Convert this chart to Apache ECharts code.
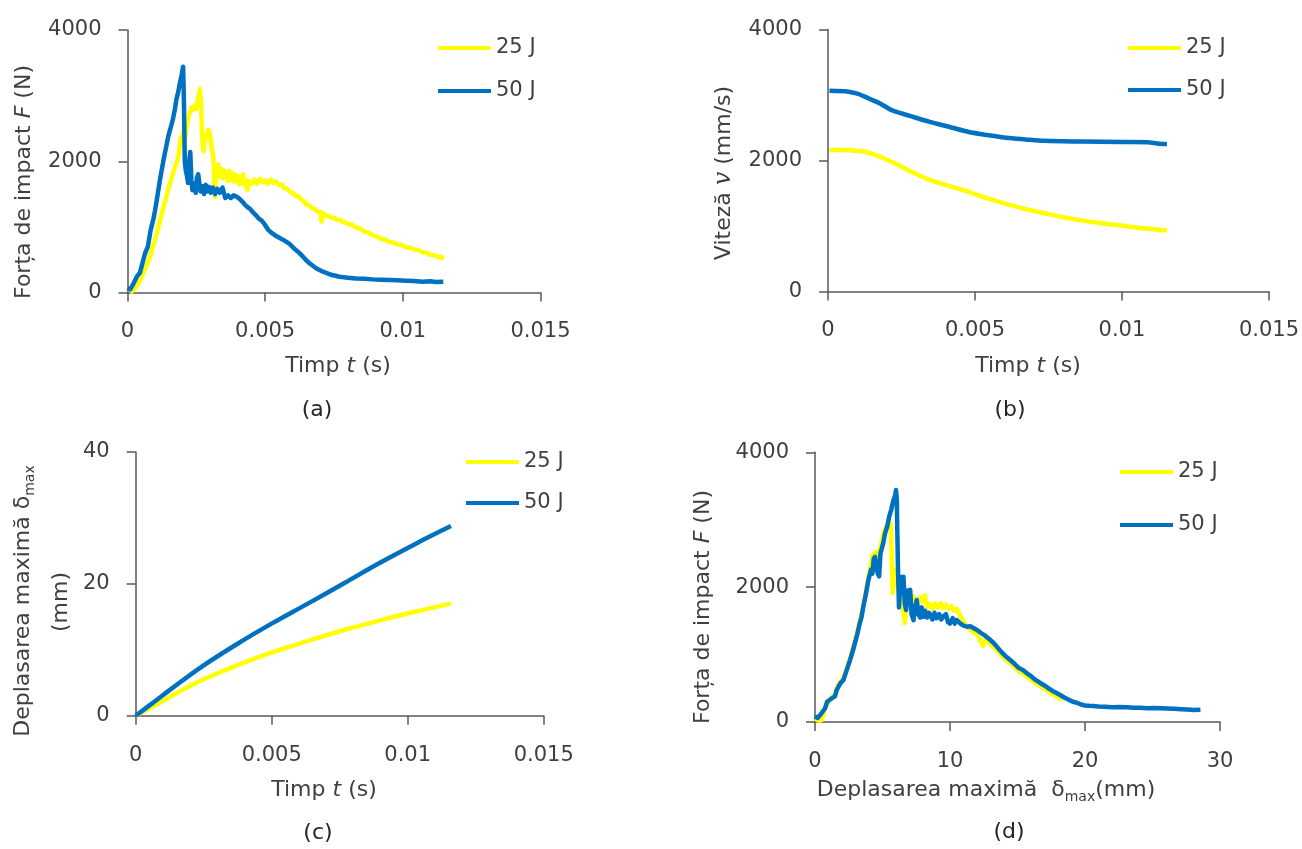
<!DOCTYPE html>
<html>
<head>
<meta charset="utf-8">
<script src="https://cdn.jsdelivr.net/npm/echarts@6/dist/echarts.min.js"></script>
<style>html,body{margin:0;padding:0;background:#fff}#c{width:1302px;height:849px}</style>
</head>
<body>
<div id="c"></div>
<script>
// ---------- DATA ----------
const seriesNames = ['25 J', '50 J'];

// (a) Impact force vs time
const a25_t = [0.00010,0.00020,0.00030,0.00040,0.00050,0.00060,0.00070,0.00080,0.00090,0.00100,0.00110,0.00120,0.00130,0.00140,0.00150,0.00160,0.00170,0.00180,0.00186,0.00192,0.00197,0.00202,0.00208,0.00214,0.00220,0.00226,0.00232,0.00238,0.00244,0.00250,0.00256,0.00263,0.00267,0.00272,0.00276,0.00282,0.00288,0.00294,0.00300,0.00306,0.00312,0.00317,0.00322,0.00326,0.00330,0.00335,0.00340,0.00345,0.00350,0.00355,0.00360,0.00365,0.00370,0.00375,0.00380,0.00385,0.00390,0.00395,0.00400,0.00405,0.00410,0.00415,0.00420,0.00425,0.00430,0.00435,0.00440,0.00450,0.00460,0.00470,0.00480,0.00490,0.00500,0.00510,0.00520,0.00530,0.00540,0.00550,0.00560,0.00570,0.00580,0.00590,0.00600,0.00610,0.00620,0.00630,0.00640,0.00650,0.00660,0.00670,0.00680,0.00690,0.00700,0.00705,0.00710,0.00720,0.00730,0.00740,0.00750,0.00760,0.00770,0.00780,0.00790,0.00800,0.00815,0.00830,0.00845,0.00860,0.00875,0.00890,0.00905,0.00920,0.00935,0.00950,0.00965,0.00980,0.00995,0.01010,0.01025,0.01040,0.01055,0.01070,0.01085,0.01100,0.01115,0.01130,0.01140,0.01147];
const a25_F = [0,30,80,140,230,320,420,520,670,800,960,1130,1290,1440,1600,1740,1880,2000,2100,2350,2250,2450,2300,2500,2650,2730,2820,2780,2850,2800,2950,3100,2850,2300,2150,2400,2350,2480,2400,2200,2050,1460,1900,1820,1950,1760,1880,1740,1860,1750,1840,1700,1850,1720,1820,1690,1800,1700,1780,1650,1760,1660,1800,1640,1720,1560,1700,1650,1720,1660,1730,1680,1710,1660,1720,1670,1690,1630,1650,1590,1580,1530,1520,1470,1470,1420,1390,1340,1330,1280,1270,1230,1230,1080,1210,1170,1170,1140,1140,1110,1110,1080,1075,1040,1035,990,975,930,915,870,855,820,805,770,765,730,725,690,685,655,650,615,610,575,570,535,545,500];

const a50_t = [0.00000,0.00010,0.00020,0.00027,0.00035,0.00045,0.00055,0.00064,0.00074,0.00084,0.00094,0.00100,0.00106,0.00112,0.00118,0.00124,0.00130,0.00136,0.00142,0.00148,0.00154,0.00160,0.00166,0.00172,0.00178,0.00184,0.00190,0.00196,0.00202,0.00205,0.00208,0.00212,0.00216,0.00220,0.00224,0.00228,0.00232,0.00236,0.00242,0.00248,0.00252,0.00257,0.00262,0.00266,0.00272,0.00278,0.00284,0.00290,0.00296,0.00302,0.00310,0.00318,0.00326,0.00335,0.00345,0.00355,0.00365,0.00375,0.00385,0.00396,0.00406,0.00416,0.00426,0.00436,0.00446,0.00456,0.00466,0.00476,0.00486,0.00496,0.00504,0.00512,0.00520,0.00530,0.00540,0.00553,0.00570,0.00589,0.00605,0.00625,0.00645,0.00661,0.00685,0.00710,0.00740,0.00770,0.00800,0.00830,0.00860,0.00890,0.00920,0.00951,0.00980,0.01010,0.01040,0.01072,0.01100,0.01120,0.01147];
const a50_F = [70,50,120,145,250,300,460,600,700,950,1120,1250,1400,1560,1720,1860,2000,2130,2250,2380,2470,2560,2660,2790,2950,3050,3190,3300,3440,2900,2000,1850,1780,1670,2000,2140,1700,1560,1660,1520,1750,1800,1620,1540,1620,1500,1640,1540,1610,1520,1600,1500,1580,1520,1600,1440,1480,1440,1480,1460,1430,1390,1340,1300,1270,1220,1180,1130,1100,1050,1000,950,920,890,860,830,790,740,670,600,510,445,370,317,270,240,225,215,210,200,195,190,185,180,175,165,170,160,165];

// (b) Velocity vs time
const b25_t = [0.00005,0.00040,0.00078,0.00117,0.00150,0.00177,0.00200,0.00228,0.00260,0.00294,0.00346,0.00411,0.00476,0.00540,0.00606,0.00670,0.00736,0.00800,0.00866,0.00930,0.00996,0.01060,0.01153];
const b25_v = [2160,2160,2155,2140,2100,2058,2010,1957,1880,1805,1703,1612,1525,1424,1337,1261,1195,1134,1082,1042,1006,971,930];
const b50_t = [0.00005,0.00070,0.00100,0.00125,0.00150,0.00177,0.00200,0.00216,0.00250,0.00281,0.00346,0.00411,0.00476,0.00540,0.00606,0.00671,0.00736,0.00866,0.00996,0.01087,0.01120,0.01153];
const b50_v = [3063,3050,3020,2975,2925,2870,2810,2770,2720,2677,2590,2515,2438,2388,2347,2322,2300,2290,2283,2280,2260,2250];

// (c) Max displacement vs time
const c25_t = [0,0.00066,0.00132,0.00238,0.00370,0.00501,0.00633,0.00766,0.00898,0.01030,0.01159];
const c25_d = [0,1.45,3.0,5.3,7.6,9.6,11.35,13.0,14.45,15.8,17.0];
const c50_t = [0,0.00066,0.00132,0.00238,0.00370,0.00501,0.00633,0.00766,0.00898,0.01030,0.01159];
const c50_d = [0,2.05,4.1,7.3,10.8,14.0,17.0,20.1,23.2,26.1,28.76];

// (d) Impact force vs max displacement
const d25_x = [0.0,0.3,0.5,0.7,0.9,1.1,1.3,1.5,1.7,1.9,2.1,2.3,2.6,2.85,3.09,3.3,3.5,3.7,3.9,4.1,4.3,4.5,4.7,4.9,5.1,5.3,5.45,5.6,5.68,5.75,5.85,5.95,6.05,6.2,6.35,6.5,6.65,6.8,6.95,7.1,7.25,7.4,7.6,7.8,8.0,8.15,8.3,8.5,8.7,8.9,9.1,9.3,9.5,9.7,9.9,10.1,10.3,10.5,10.7,10.9,11.2,11.5,11.8,12.1,12.44,12.6,12.9,13.2,13.5,13.8,14.1,14.46,14.8,15.1,15.4,15.7,16.0,16.3,16.6,16.94,17.3,17.6,17.9,18.3];
const d25_F = [50,20,30,180,260,340,370,420,540,600,660,760,950,1120,1300,1480,1650,1850,2080,2300,2480,2520,2450,2650,2820,2900,2950,2950,2500,1910,2200,2250,2100,1950,2050,1700,1470,1780,1850,1750,1870,1800,1760,1850,1780,1880,1700,1750,1680,1760,1700,1760,1690,1740,1680,1720,1650,1680,1600,1520,1430,1370,1320,1270,1130,1220,1170,1120,1060,990,930,870,810,750,720,670,630,580,540,500,450,410,380,330];

const d50_x = [0.0,0.2,0.4,0.5,0.74,0.9,1.1,1.3,1.48,1.6,1.73,1.9,2.1,2.3,2.6,2.85,3.09,3.3,3.45,3.58,3.75,3.95,4.05,4.15,4.25,4.35,4.45,4.55,4.65,4.75,4.85,4.95,5.05,5.19,5.35,5.5,5.65,5.81,5.92,6.0,6.06,6.1,6.15,6.22,6.3,6.4,6.5,6.55,6.65,6.75,6.85,6.95,7.05,7.15,7.3,7.4,7.54,7.65,7.8,7.9,8.03,8.15,8.3,8.45,8.53,8.7,8.85,9.0,9.2,9.35,9.52,9.7,9.85,10.0,10.2,10.35,10.5,10.75,11.0,11.25,11.5,12.0,12.3,12.6,12.9,13.2,13.5,13.8,14.1,14.46,14.8,15.1,15.4,15.7,16.0,16.3,16.6,16.94,17.3,17.6,17.9,18.16,18.5,18.8,19.1,19.4,19.7,20.0,20.3,20.6,21.0,21.5,22.0,22.5,23.1,23.6,24.1,24.6,25.1,25.6,26.1,26.6,27.1,27.6,28.06,28.55];
const d50_F = [80,60,110,100,200,300,330,360,380,470,520,580,620,740,920,1090,1265,1450,1560,1710,1880,2100,2180,2260,2200,2420,2450,2300,2200,2160,2500,2500,2650,2800,2900,3050,3150,3290,3350,3440,3300,2800,2250,1700,2000,2150,1900,2155,1750,1660,1950,1800,1960,1600,1510,1700,1810,1600,1550,1700,1560,1650,1550,1620,1600,1520,1620,1540,1600,1520,1570,1600,1480,1460,1540,1460,1513,1464,1430,1414,1420,1365,1320,1280,1230,1180,1110,1040,980,920,860,800,770,722,680,630,590,549,500,460,430,400,360,330,300,286,260,245,240,237,230,225,220,222,218,210,212,205,208,203,200,195,190,185,178,180];

// tick settings
const timeTicks = {min: 0, max: 0.015, interval: 0.005};
const forceTicks = {min: 0, max: 4000, interval: 2000};
const dispTicks = {min: 0, max: 40, interval: 20};
const dispXTicks = {min: 0, max: 30, interval: 10};

// ---------- CHART ----------
const zip = (xs, ys) => xs.map((x, i) => [x, ys[i]]);
const YELLOW = '#FFFF00', BLUE = '#0070C0';
const FONT = 'DejaVu Sans';
const AX = '#595959', TXT = '#404040';

function axis(extra, isX) {
  return Object.assign({
    type: 'value',
    axisLine: {show: true, onZero: false, lineStyle: {color: AX, width: 1.5}},
    axisTick: {show: true, inside: false, length: 9, lineStyle: {color: AX, width: 1.5}},
    splitLine: {show: false},
    axisLabel: {color: TXT, fontSize: 21, fontFamily: FONT, margin: isX ? 29 : 26,
      formatter: v => String(+(+v).toPrecision(6))}
  }, extra);
}

const grids = [
  {left: 127.5, top: 30, width: 413, height: 262.5},
  {left: 828, top: 29.5, width: 441, height: 262},
  {left: 135.7, top: 452, width: 408, height: 263.7},
  {left: 815, top: 452.3, width: 405, height: 269.7}
];

function lineSeries(name, idx, data, color, z, smooth) {
  return {
    name, type: 'line', xAxisIndex: idx, yAxisIndex: idx, data,
    showSymbol: false, symbol: 'none', z, smooth: smooth || false,
    lineStyle: {color, width: 4.5, join: 'round'}, itemStyle: {color},
    animation: false
  };
}

function legend(left, top, gap) {
  return {
    left, top, orient: 'vertical', itemWidth: 53, itemHeight: 4, itemGap: gap,
    icon: 'rect', data: seriesNames, selectedMode: false,
    textStyle: {fontSize: 21, color: TXT, fontFamily: FONT, lineHeight: 24}
  };
}

const nRich = {
  n: {fontFamily: FONT, fontSize: 22, fill: TXT, lineHeight: 28},
  i: {fontFamily: FONT, fontSize: 22, fill: TXT, fontStyle: 'italic', lineHeight: 28},
  v: {fontFamily: 'DejaVu Serif', fontSize: 24, fill: TXT, fontStyle: 'italic', lineHeight: 28},
  s: {fontFamily: FONT, fontSize: 14, fill: TXT, lineHeight: 14, verticalAlign: 'bottom'}
};
function label(x, y, text, rot) {
  return {
    type: 'text', x, y, rotation: rot ? Math.PI / 2 : 0, silent: true,
    style: {text, rich: nRich, align: 'center', verticalAlign: 'middle'}
  };
}
function panel(x, y, t) {
  return {type: 'text', x, y, silent: true,
    style: {text: t, fontFamily: FONT, fontSize: 22, fill: '#262626', align: 'center', verticalAlign: 'middle'}};
}

const option = {
  backgroundColor: '#ffffff',
  animation: false,
  grid: grids,
  xAxis: [
    axis(Object.assign({gridIndex: 0}, timeTicks), true),
    axis(Object.assign({gridIndex: 1}, timeTicks), true),
    axis(Object.assign({gridIndex: 2}, timeTicks), true),
    axis(Object.assign({gridIndex: 3}, dispXTicks), true)
  ],
  yAxis: [
    axis(Object.assign({gridIndex: 0}, forceTicks), false),
    axis(Object.assign({gridIndex: 1}, forceTicks), false),
    axis(Object.assign({gridIndex: 2}, dispTicks), false),
    axis(Object.assign({gridIndex: 3}, forceTicks), false)
  ],
  legend: [legend(433, 31, 19), legend(1123, 31, 18), legend(461, 445, 17), legend(1115, 455, 29)],
  series: [
    lineSeries(seriesNames[0], 0, zip(a25_t, a25_F), YELLOW, 2),
    lineSeries(seriesNames[1], 0, zip(a50_t, a50_F), BLUE, 3),
    lineSeries(seriesNames[0], 1, zip(b25_t, b25_v), YELLOW, 2, 0.3),
    lineSeries(seriesNames[1], 1, zip(b50_t, b50_v), BLUE, 3, 0.3),
    lineSeries(seriesNames[0], 2, zip(c25_t, c25_d), YELLOW, 2, 0.4),
    lineSeries(seriesNames[1], 2, zip(c50_t, c50_d), BLUE, 3, 0.4),
    lineSeries(seriesNames[0], 3, zip(d25_x, d25_F), YELLOW, 2),
    lineSeries(seriesNames[1], 3, zip(d50_x, d50_F), BLUE, 3)
  ],
  graphic: [
    label(24, 182, '{n|Forța de impact }{i|F}{n| (N)}', true),
    label(338, 366, '{n|Timp }{i|t}{n| (s)}', false),
    panel(317, 410, '(a)'),
    label(724, 173, '{n|Viteză }{v|v}{n| (mm/s)}', true),
    label(1028, 366, '{n|Timp }{i|t}{n| (s)}', false),
    panel(1010, 410, '(b)'),
    label(23, 601, '{n|Deplasarea maximă δ}{s|max}', true),
    label(61, 602, '{n|(mm)}', true),
    label(324, 790, '{n|Timp }{i|t}{n| (s)}', false),
    panel(318, 833, '(c)'),
    label(703, 607, '{n|Forța de impact }{i|F}{n| (N)}', true),
    label(986, 790, '{n|Deplasarea maximă  δ}{s|max}{n|(mm)}', false),
    panel(1009, 832, '(d)')
  ]
};

const chart = echarts.init(document.getElementById('c'), null, {renderer: 'canvas'});
chart.setOption(option);
</script>
</body>
</html>
